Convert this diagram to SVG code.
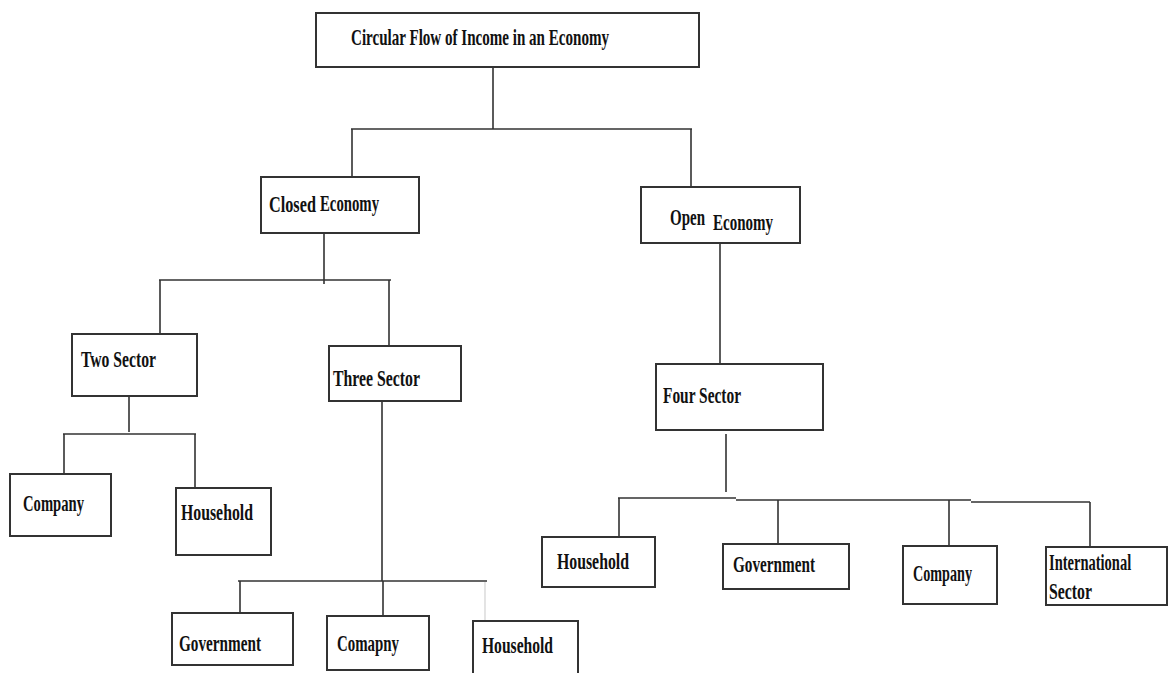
<svg xmlns="http://www.w3.org/2000/svg" width="1168" height="673" viewBox="0 0 1168 673">
  <style>
    .box { fill: #ffffff; stroke: #333333; stroke-width: 2; }
    .lbl { font-family: "Liberation Serif", "Times New Roman", serif; font-weight: bold; font-size: 24px; fill: #111111; }
    .link { fill: none; stroke: #333333; stroke-width: 1.6; }
    .faint { fill: none; stroke: #dddddd; stroke-width: 1.6; }
  </style>
  <rect width="1168" height="673" fill="#ffffff"/>

  <!-- tree connectors -->
  <g id="connectors">
    <path class="link" d="M493,67 V129 M351,129 H692 M352,129 V177 M691,129 V187"/>
    <path class="link" d="M324,233 V284 M159,280 H391 M160,280 V334 M389,280 V346"/>
    <path class="link" d="M129,396 V432 M63,434 H196 M64,434 V474 M195,434 V488"/>
    <path class="link" d="M382,401 V581 M238,581 H487 M240,581 V613 M383,581 V616"/>
    <path class="faint" d="M485,582 V628"/>
    <path class="link" d="M720,243 V364"/>
    <path class="link" d="M726,434 V492 M618,498 H736 M736,500 H971 M971,502 H1090 M619,498 V537 M778,500 V544 M949,500 V546 M1090,502 V552"/>
  </g>

  <g id="root">
    <rect class="box" x="316" y="13" width="383" height="54"/>
    <text class="lbl" x="351" y="45" font-size="25" textLength="258" lengthAdjust="spacingAndGlyphs">Circular Flow of Income in an Economy</text>
  </g>

  <!-- two-word labels: each word is squeezed horizontally on its own baseline -->
  <g id="closed-economy">
    <rect class="box" x="261" y="177" width="158" height="56"/>
    <text class="lbl" transform="translate(269,212) scale(0.68,1)" textLength="69" lengthAdjust="spacingAndGlyphs">Closed</text>
    <text class="lbl" transform="translate(320,211) scale(0.615,1)" textLength="96" lengthAdjust="spacingAndGlyphs">Economy</text>
  </g>

  <g id="open-economy">
    <rect class="box" x="641" y="187" width="159" height="56"/>
    <text class="lbl" transform="translate(670,225) scale(0.625,1)" textLength="56" lengthAdjust="spacingAndGlyphs">Open</text>
    <text class="lbl" transform="translate(713,230) scale(0.625,1)" textLength="96" lengthAdjust="spacingAndGlyphs">Economy</text>
  </g>

  <g id="two-sector">
    <rect class="box" x="72" y="334" width="125" height="62"/>
    <text class="lbl" x="81" y="367" textLength="75" lengthAdjust="spacingAndGlyphs">Two Sector</text>
  </g>

  <g id="three-sector">
    <rect class="box" x="329" y="346" width="132" height="55"/>
    <text class="lbl" x="333" y="386" textLength="87" lengthAdjust="spacingAndGlyphs">Three Sector</text>
  </g>

  <g id="four-sector">
    <rect class="box" x="656" y="364" width="167" height="66"/>
    <text class="lbl" x="663" y="403" textLength="78" lengthAdjust="spacingAndGlyphs">Four Sector</text>
  </g>

  <g id="two-company">
    <rect class="box" x="10" y="474" width="101" height="62"/>
    <text class="lbl" x="23" y="511" textLength="61" lengthAdjust="spacingAndGlyphs">Company</text>
  </g>

  <g id="two-household">
    <rect class="box" x="176" y="488" width="95" height="67"/>
    <text class="lbl" x="181" y="520" textLength="72" lengthAdjust="spacingAndGlyphs">Household</text>
  </g>

  <g id="three-government">
    <rect class="box" x="172" y="613" width="121" height="52"/>
    <text class="lbl" x="179" y="651" textLength="82" lengthAdjust="spacingAndGlyphs">Government</text>
  </g>

  <g id="three-company">
    <rect class="box" x="327" y="616" width="102" height="54"/>
    <text class="lbl" x="337" y="651" textLength="62" lengthAdjust="spacingAndGlyphs">Comapny</text>
  </g>

  <g id="three-household">
    <rect class="box" x="473" y="621" width="105" height="62"/>
    <text class="lbl" x="482" y="653" textLength="71" lengthAdjust="spacingAndGlyphs">Household</text>
  </g>

  <g id="four-household">
    <rect class="box" x="542" y="537" width="113" height="50"/>
    <text class="lbl" x="557" y="569" textLength="72" lengthAdjust="spacingAndGlyphs">Household</text>
  </g>

  <g id="four-government">
    <rect class="box" x="723" y="544" width="126" height="45"/>
    <text class="lbl" x="733" y="572" textLength="82" lengthAdjust="spacingAndGlyphs">Government</text>
  </g>

  <g id="four-company">
    <rect class="box" x="903" y="546" width="94" height="58"/>
    <text class="lbl" x="913" y="581" textLength="59" lengthAdjust="spacingAndGlyphs">Company</text>
  </g>

  <g id="four-international">
    <rect class="box" x="1046" y="547" width="121" height="58"/>
    <text class="lbl" transform="translate(1049,570) scale(0.6,1)" textLength="137" lengthAdjust="spacingAndGlyphs">International</text>
    <text class="lbl" x="1049" y="599" textLength="43" lengthAdjust="spacingAndGlyphs">Sector</text>
  </g>
</svg>
